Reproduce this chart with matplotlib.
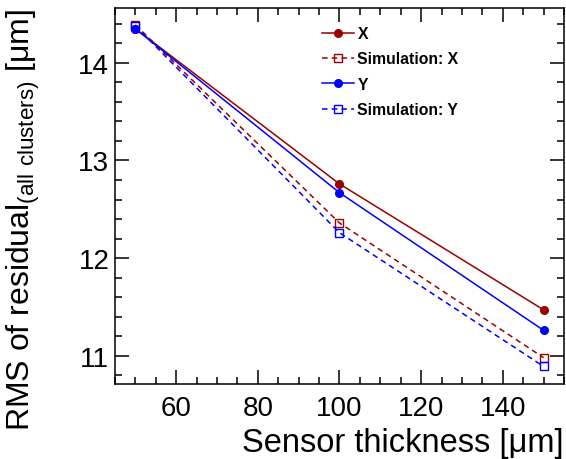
import numpy as np
import matplotlib as mpl
mpl.use('Agg')
import matplotlib.pyplot as plt
from matplotlib.ticker import MultipleLocator

plt.rcParams['font.family'] = ['Liberation Sans', 'DejaVu Sans']
plt.rcParams['mathtext.fontset'] = 'custom'
plt.rcParams['mathtext.rm'] = 'Liberation Sans'
plt.rcParams['lines.scale_dashes'] = False

# sensor thickness [um]
thickness = [50, 100, 150]
# RMS of residual [um]
rms_x = [14.35, 12.76, 11.47]
rms_x_sim = [14.39, 12.36, 10.98]
rms_y = [14.35, 12.67, 11.26]
rms_y_sim = [14.38, 12.26, 10.89]

red = '#990000'
blue = '#0000ff'

fig = plt.figure(figsize=(5.66, 4.60), dpi=100)
ax = fig.add_axes([0.203, 0.163, 0.7935, 0.817])

ax.plot(thickness, rms_x, color=red, lw=1.1, marker='o', ms=5.5, label='X')
ax.plot(thickness, rms_x_sim, color=red, lw=1.1, dashes=(4, 3), marker='s', ms=6,
        mfc='none', mew=1.0, label='Simulation: X')
ax.plot(thickness, rms_y, color=blue, lw=1.1, marker='o', ms=5.5, label='Y')
ax.plot(thickness, rms_y_sim, color=blue, lw=1.1, dashes=(4, 3), marker='s', ms=6,
        mfc='none', mew=1.0, label='Simulation: Y')

ax.set_xlim(45, 155)
ax.set_ylim(10.71, 14.56)
ax.xaxis.set_major_locator(MultipleLocator(20))
ax.xaxis.set_minor_locator(MultipleLocator(5))
ax.yaxis.set_major_locator(MultipleLocator(1))
ax.yaxis.set_minor_locator(MultipleLocator(0.2))
ax.tick_params(which='both', direction='in', top=True, right=True, width=1.1)
ax.tick_params(which='major', length=10, labelsize=20)
ax.tick_params(axis='x', which='major', pad=8)
ax.tick_params(axis='y', which='major', pad=4)
ax.tick_params(which='minor', length=5)
for s in ax.spines.values():
    s.set_linewidth(1.1)

ax.set_xlabel('Sensor thickness [\u03bcm]', fontsize=23.5, loc='right', labelpad=4.5)
ax.set_ylabel('RMS of residual$_{\\mathrm{(all\\ clusters)}}$ [\u03bcm]', fontsize=23,
              loc='top', labelpad=26)

leg = ax.legend(loc='upper left', bbox_to_anchor=(0.43, 0.99), frameon=False,
                prop={'weight': 'bold', 'size': 11.3}, handlelength=2.05,
                handletextpad=0.2, labelspacing=0.66)

fig.savefig('out.png', dpi=100)
